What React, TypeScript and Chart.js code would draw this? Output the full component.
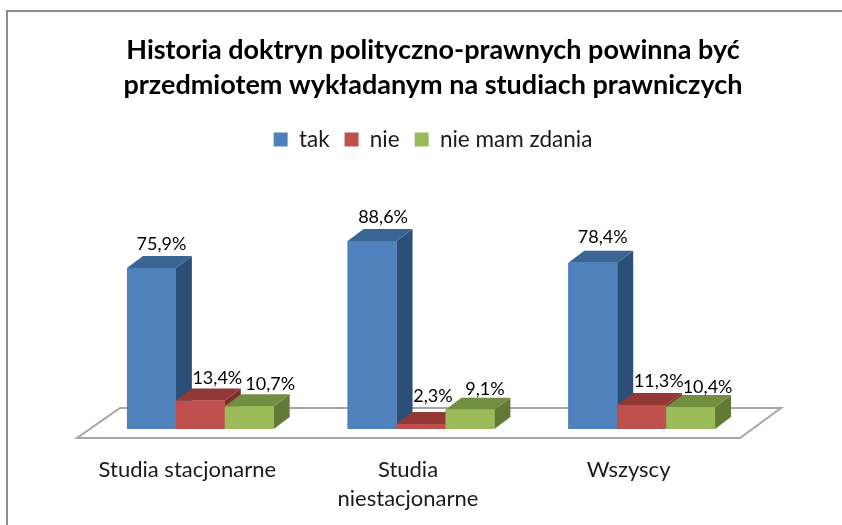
import React, { useEffect, useRef } from "react";
import { Chart, registerables } from "chart.js";

Chart.register(...registerables);

const titleLines = [
  "Historia doktryn polityczno-prawnych powinna być",
  "przedmiotem wykładanym na studiach prawniczych",
];
const categories = ["Studia stacjonarne", ["Studia", "niestacjonarne"], "Wszyscy"];
const tak = [75.9, 88.6, 78.4];
const nie = [13.4, 2.3, 11.3];
const nieMamZdania = [10.7, 9.1, 10.4];

const FONT = "Lato, Carlito, Calibri, sans-serif";
const DX = 16;
const DY = -12;

const shades = [
  { front: "#4f81bd", top: "#3a6595", side: "#2c4f78" },
  { front: "#c0504d", top: "#943836", side: "#7e2f2d" },
  { front: "#9bbb59", top: "#748e41", side: "#627a36" },
];
const labelShift = [
  [[10, -24], [11, -24], [10, -26]],
  [[17, -22], [12, -28], [17, -24]],
  [[21, -22], [15, -21], [17, -20]],
];

const fmt = (v: number) => v.toFixed(1).replace(".", ",") + "%";

const frame = {
  id: "frame",
  beforeDraw(chart: any) {
    const { ctx, width, height } = chart;
    ctx.save();
    ctx.fillStyle = "#fff";
    ctx.fillRect(0, 0, width, height);
    ctx.strokeStyle = "#8c8c8c";
    ctx.lineWidth = 2;
    ctx.beginPath();
    ctx.moveTo(7, height);
    ctx.lineTo(7, 11);
    ctx.lineTo(width, 11);
    ctx.stroke();
    ctx.restore();
  },
};

const floor3d = {
  id: "floor3d",
  beforeDatasetsDraw(chart: any) {
    const { ctx, chartArea, scales } = chart;
    const b = chartArea.bottom;
    const step = scales.x.getPixelForValue(1) - scales.x.getPixelForValue(0);
    const l = scales.x.getPixelForValue(0) - step / 2;
    const r = scales.x.getPixelForValue(2) + step / 2;
    ctx.save();
    ctx.strokeStyle = "#a6a6a6";
    ctx.lineWidth = 2;
    ctx.beginPath();
    ctx.moveTo(l - 13, b + 9);
    ctx.lineTo(r - 12, b + 9);
    ctx.lineTo(r + 29, b - 21);
    ctx.lineTo(l + 30, b - 21);
    ctx.closePath();
    ctx.stroke();
    ctx.restore();
  },
};

const bars3d = {
  id: "bars3d",
  afterDatasetsDraw(chart: any) {
    const { ctx } = chart;
    ctx.save();
    chart.data.datasets.forEach((_: any, di: number) => {
      const c = shades[di];
      chart.getDatasetMeta(di).data.forEach((bar: any) => {
        const { x, y, width, base } = bar.getProps(["x", "y", "width", "base"], true);
        const l = x - width / 2;
        const r = x + width / 2;
        ctx.fillStyle = c.side;
        ctx.beginPath();
        ctx.moveTo(r, y);
        ctx.lineTo(r + DX, y + DY);
        ctx.lineTo(r + DX, base + DY);
        ctx.lineTo(r, base);
        ctx.closePath();
        ctx.fill();
        ctx.fillStyle = c.top;
        ctx.beginPath();
        ctx.moveTo(l, y);
        ctx.lineTo(l + DX, y + DY);
        ctx.lineTo(r + DX, y + DY);
        ctx.lineTo(r, y);
        ctx.closePath();
        ctx.fill();
        bar.draw(ctx);
      });
    });
    ctx.fillStyle = "#000";
    ctx.font = `18px ${FONT}`;
    ctx.textAlign = "center";
    ctx.textBaseline = "middle";
    chart.data.datasets.forEach((ds: any, di: number) => {
      chart.getDatasetMeta(di).data.forEach((bar: any, i: number) => {
        const s = labelShift[di][i];
        ctx.fillText(fmt(ds.data[i]), bar.x + s[0], bar.y + s[1]);
      });
    });
    ctx.restore();
  },
};

export default function App() {
  const ref = useRef<HTMLCanvasElement>(null);
  useEffect(() => {
    document.body.style.margin = "0";
    const chart = new Chart(ref.current!, {
      type: "bar",
      data: {
        labels: categories as any,
        datasets: [
          { label: "tak", data: tak, backgroundColor: shades[0].front },
          { label: "nie", data: nie, backgroundColor: shades[1].front },
          { label: "nie mam zdania", data: nieMamZdania, backgroundColor: shades[2].front },
        ],
      },
      options: {
        animation: false,
        responsive: false,
        devicePixelRatio: 1,
        layout: { padding: { left: 90, right: 66, top: 0, bottom: 0 } },
        datasets: { bar: { barPercentage: 1, categoryPercentage: 0.665 } },
        scales: {
          x: {
            grid: { display: false },
            border: { display: false },
            ticks: {
              padding: 18,
              labelOffset: -13,
              maxRotation: 0,
              autoSkip: false,
              color: "#1a1a1a",
              font: { family: FONT, size: 22, lineHeight: 1.32 },
            },
            afterFit(scale: any) {
              scale.height = 96;
            },
          },
          y: {
            position: "right",
            min: 0,
            max: 126.5,
            grid: { display: false },
            border: { display: false },
            ticks: { display: false },
            afterFit(scale: any) {
              scale.width = 24;
            },
          },
        },
        plugins: {
          tooltip: { enabled: false },
          title: {
            display: true,
            text: titleLines,
            color: "#000",
            font: { family: FONT, size: 27, weight: "bold", lineHeight: 1.3 },
            padding: { top: 33, bottom: 10 },
          },
          legend: {
            display: true,
            position: "top",
            labels: {
              boxWidth: 14,
              boxHeight: 14,
              color: "#1a1a1a",
              font: { family: FONT, size: 22.5 },
              padding: 15,
            },
          },
        },
      },
      plugins: [frame, floor3d, bars3d],
    } as any);
    return () => chart.destroy();
  }, []);
  return <canvas ref={ref} width={842} height={525} style={{ display: "block" }} />;
}
